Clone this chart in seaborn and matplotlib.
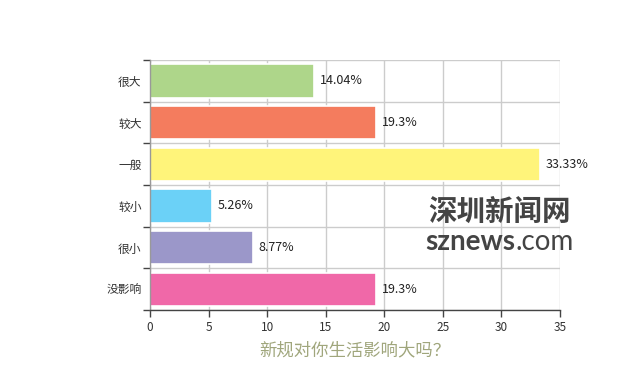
import matplotlib
matplotlib.use("Agg")
import matplotlib.pyplot as plt
import numpy as np
import pandas as pd
import seaborn as sns
from matplotlib.ticker import FixedLocator

categories = ["很大", "较大", "一般", "较小", "很小", "没影响"]
values = [14.04, 19.3, 33.33, 5.26, 8.77, 19.3]
value_labels = ["14.04%", "19.3%", "33.33%", "5.26%", "8.77%", "19.3%"]
colors = ["#aed68a", "#f47c5e", "#fff47a", "#6bd1f7", "#9b97c9", "#f068a8"]
x_ticks = [0, 5, 10, 15, 20, 25, 30, 35]

sns.set_theme(style="white")
plt.rcParams["font.family"] = ["Noto Sans CJK SC", "DejaVu Sans"]

df = pd.DataFrame({"category": categories, "value": values})

fig = plt.figure(figsize=(6.2, 3.7), dpi=100)
ax = fig.add_axes([150 / 620, 1 - 310 / 370, 410 / 620, 250 / 370])

sns.barplot(
    data=df, x="value", y="category", hue="category", order=categories,
    palette=colors, saturation=1, legend=False, width=0.8, edgecolor="white",
    linewidth=1.2, orient="h", ax=ax,
)

ax.set_xlim(0, 35)
ax.set_ylim(5.5, -0.5)
ax.set_xticks(x_ticks)
ax.yaxis.set_minor_locator(FixedLocator(np.arange(-0.5, 6.0, 1.0)))
ax.tick_params(axis="y", which="major", length=0, labelsize=8.5, labelcolor="#333333", pad=6)
ax.tick_params(axis="y", which="minor", length=5, width=1, color="#444444", direction="out", left=True)
ax.tick_params(axis="x", length=5, width=1, color="#444444", direction="out", bottom=True,
               labelsize=8.5, labelcolor="#333333", pad=3)

ax.set_axisbelow(True)
ax.grid(axis="x", which="major", color="#cccccc", linewidth=1)
ax.grid(axis="y", which="minor", color="#cccccc", linewidth=1)
for side in ["top", "right"]:
    ax.spines[side].set_visible(False)
ax.spines["left"].set_color("#999999")
ax.spines["bottom"].set_color("#444444")
ax.spines["left"].set_linewidth(1)
ax.spines["bottom"].set_linewidth(1)

# value labels at the end of each bar
for patch in ax.patches:
    w = patch.get_width()
    if w <= 0:
        continue
    yc = patch.get_y() + patch.get_height() / 2
    idx = int(round(yc))
    ax.annotate(value_labels[idx], (w, yc), xytext=(4, 0), textcoords="offset points",
                va="center", ha="left", fontsize=9, color="#222222")

ax.set_ylabel("")
ax.set_xlabel("新规对你生活影响大吗？", fontsize=12.5, color="#a0a67c", labelpad=5)

# watermark
fig.text(0.690, 0.404, "深圳新闻网", fontsize=20.5, fontweight="bold", color="#444444",
         ha="left", va="baseline")
t1 = fig.text(0.686, 0.325, "sznews", fontsize=20, fontweight="bold", color="#444444",
              family="Lato", ha="left", va="baseline")
t2 = fig.text(0, 0.325, ".com", fontsize=20, color="#444444", family="Lato",
              ha="left", va="baseline")
fig.canvas.draw()
bb = t1.get_window_extent()
t2.set_x(bb.x1 / fig.bbox.width)

fig.savefig("out.png", dpi=100)
